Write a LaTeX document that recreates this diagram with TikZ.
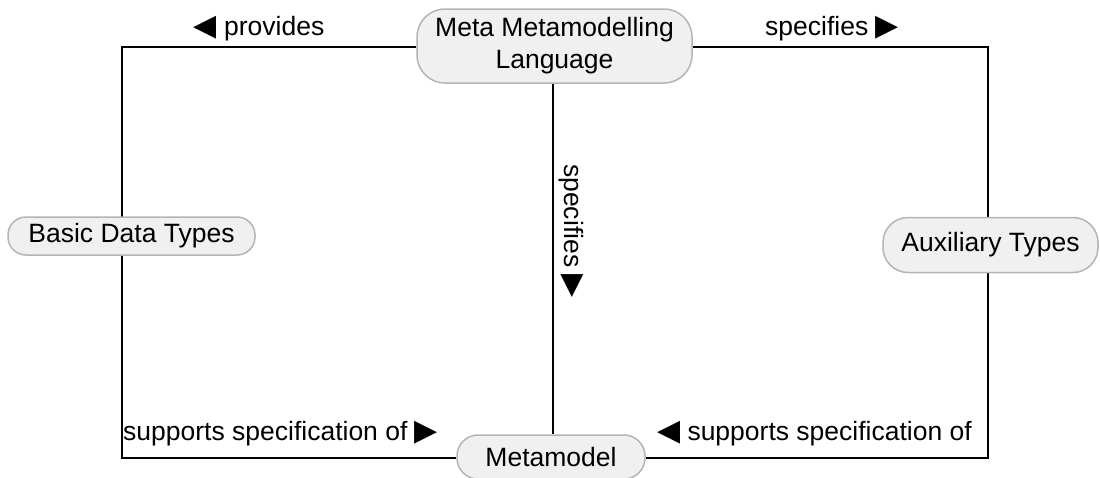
\documentclass[tikz,border=0pt]{standalone}
\usepackage{fontspec}
\setmainfont{Liberation Sans}
\newfontfamily\trifont{DejaVu Sans}
\usetikzlibrary{backgrounds}
\definecolor{nodefill}{HTML}{F0F0F0}
\definecolor{nodeborder}{HTML}{B4B4B4}
\tikzset{
  concept/.style={draw=nodeborder, fill=nodefill, line width=1.5pt, inner sep=0pt, align=center,
    font=\fontsize{26.5}{32}\selectfont},
  link/.style={draw=black, line width=1.8pt},
  lbl/.style={inner sep=0pt, font=\fontsize{26.5}{32}\selectfont}
}
\newcommand{\tri}[1]{{\trifont\fontsize{30}{32}\selectfont #1}}
\begin{document}
\begin{tikzpicture}[x=1pt,y=-1pt]
\useasboundingbox (0,0) rectangle (1100,477);
% nodes
\node[concept, minimum width=275pt, minimum height=74pt, rounded corners=28pt] (mml) at (554.5,46) {Meta Metamodelling\\Language};
\node[concept, minimum width=247pt, minimum height=38pt, rounded corners=18pt] (bdt) at (131.5,236) {Basic Data Types};
\node[concept, minimum width=215pt, minimum height=55pt, rounded corners=25pt] (aux) at (990.5,245) {Auxiliary Types};
\node[concept, minimum width=188pt, minimum height=44pt, rounded corners=21pt] (mm) at (551,457) {Metamodel};
% corners
\coordinate (tl) at (122,47);
\coordinate (bl) at (122,458);
\coordinate (tr) at (988,47);
\coordinate (br) at (988,458);
% connectors
\begin{scope}[on background layer]
\draw[link] (mml.west |- tl) -- (tl) -- (bl) -- (mm.west |- bl);
\draw[link] (mml.east |- tr) -- (tr) -- (br) -- (mm.east |- br);
\draw[link] (553,83) coordinate (cs) -- (cs |- mm.north);
\end{scope}
% labels
\node[lbl] (lprov) at (259,29) {\tri{◀} provides};
\node[lbl] (lspec) at (832,29) {specifies \tri{▶}};
\node[lbl, rotate=-90] (lvspec) at (571,231) {specifies \tri{▶}};
\node[lbl, anchor=west] (lsupl) at (123,434) {supports specification of \tri{▶}};
\node[lbl, anchor=east] (lsupr) at (972,434) {\tri{◀} supports specification of};
\end{tikzpicture}
\end{document}
